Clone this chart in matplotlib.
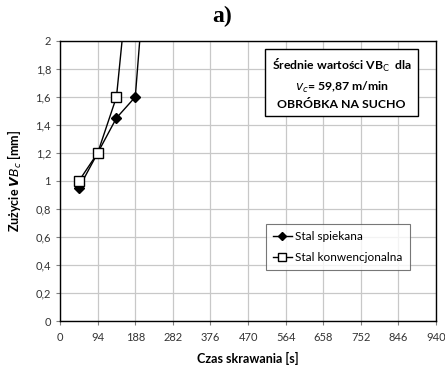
import matplotlib
matplotlib.use("Agg")
import matplotlib.pyplot as plt
from matplotlib.ticker import FuncFormatter

# data (last points run off the top of the axis)
t_spiek = [47, 94, 141, 188, 235]
vb_spiek = [0.95, 1.2, 1.45, 1.6, 3.3]
t_konw = [47, 94, 141, 188]
vb_konw = [1.0, 1.2, 1.6, 2.95]
xticks = [0, 94, 188, 282, 376, 470, 564, 658, 752, 846, 940]
yticks = [0, 0.2, 0.4, 0.6, 0.8, 1.0, 1.2, 1.4, 1.6, 1.8, 2.0]

plt.rcParams["font.family"] = ["Lato", "DejaVu Sans"]

fig = plt.figure(figsize=(4.45, 3.72), dpi=100)
ax = fig.add_axes([0.135, 0.137, 0.845, 0.753])

ax.plot(t_spiek, vb_spiek, color="black", lw=1.0, marker="D", ms=5,
        mfc="black", mec="black", label="Stal spiekana")
ax.plot(t_konw, vb_konw, color="black", lw=1.0, marker="s", ms=7,
        mfc="white", mec="black", label="Stal konwencjonalna")

ax.set_xlim(0, 940)
ax.set_ylim(0, 2)
ax.set_xticks(xticks)
ax.set_yticks(yticks)
ax.yaxis.set_major_formatter(FuncFormatter(lambda v, p: f"{v:g}".replace(".", ",")))
ax.tick_params(labelsize=8, color="#808080", length=3, labelcolor="#333333")
ax.tick_params(axis="x", pad=5)
ax.grid(True, color="#c8c8c8", lw=0.9)
ax.set_axisbelow(True)
for s in ax.spines.values():
    s.set_color("black")
    s.set_linewidth(1.0)

ax.set_xlabel("Czas skrawania [s]", fontsize=9, fontweight="bold", labelpad=6)
ax.set_ylabel(r"Zużycie $\boldsymbol{VB_c}$ [mm]", fontsize=9, fontweight="bold", labelpad=8)

fig.text(0.5, 0.955, "a)", ha="center", va="center", fontsize=17,
         fontweight="bold", family="Liberation Serif")

ax.text(0.749, 0.848,
        "Średnie wartości VB$_\\mathrm{C}$  dla\n$\\boldsymbol{v_c}$= 59,87 m/min\nOBRÓBKA NA SUCHO",
        transform=ax.transAxes, ha="center", va="center", fontsize=8.8,
        fontweight="bold", linespacing=1.45,
        bbox=dict(boxstyle="square,pad=0.5", fc="white", ec="black", lw=1.0))

leg = ax.legend(loc="center right", bbox_to_anchor=(0.945, 0.264), fontsize=8.5,
                frameon=True, fancybox=False, edgecolor="#555555",
                handlelength=1.6, handletextpad=0.3, borderpad=0.6,
                labelspacing=0.8, markerscale=0.8)
leg.get_frame().set_linewidth(0.8)

fig.savefig("out.png", dpi=100)
